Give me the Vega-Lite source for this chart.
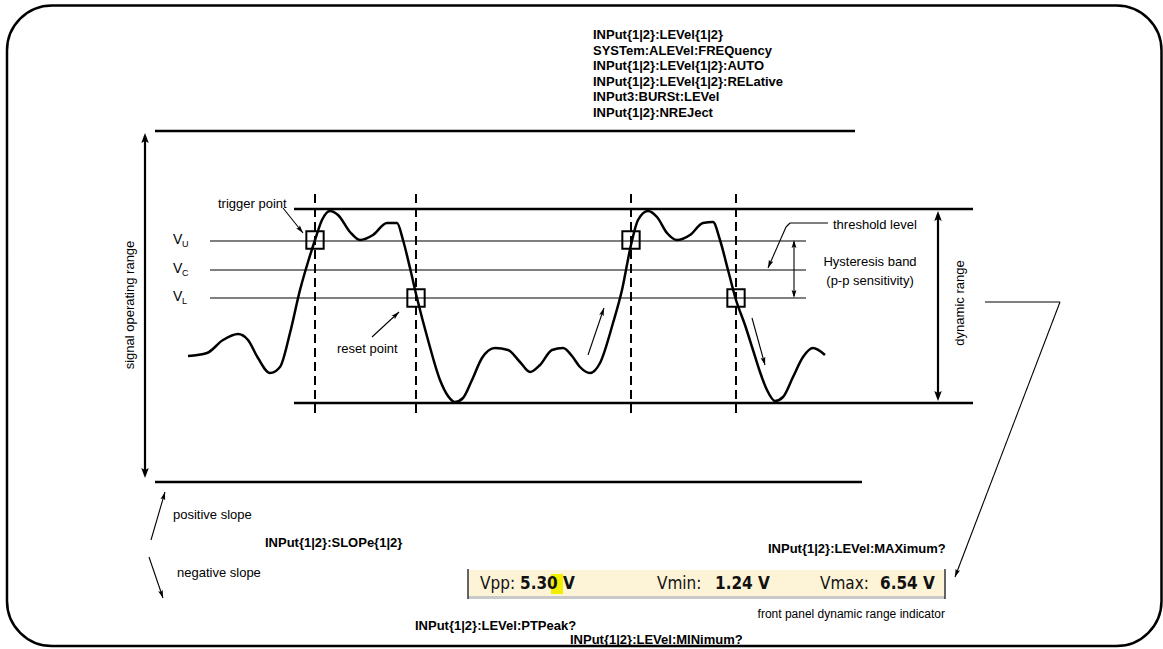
{
  "$schema": "https://vega.github.io/schema/vega-lite/v6.json",
  "width": 1163,
  "height": 649,
  "autosize": {"type": "fit", "contains": "padding"},
  "padding": 0,
  "background": "white",
  "config": {"view": {"stroke": null}, "text": {"font": "Liberation Sans, Arial, sans-serif"}},
  "datasets": {
    "frame": [{"x": 7, "x2": 1161.5, "y": 5.5, "y2": 646}],
    "thick": [
      {"x": 155, "x2": 855, "y": 131},
      {"x": 155, "x2": 862, "y": 482},
      {"x": 294, "x2": 973, "y": 209},
      {"x": 294, "x2": 973, "y": 403}
    ],
    "thin": [
      {"x": 210, "x2": 806, "y": 241},
      {"x": 210, "x2": 806, "y": 270},
      {"x": 210, "x2": 806, "y": 298}
    ],
    "dashed": [
      {"x": 315, "y": 194, "y2": 414},
      {"x": 416, "y": 194, "y2": 414},
      {"x": 631, "y": 194, "y2": 414},
      {"x": 736, "y": 194, "y2": 414}
    ],
    "squares": [
      {"x": 315, "y": 240},
      {"x": 416, "y": 298},
      {"x": 631, "y": 240},
      {"x": 736, "y": 298}
    ],
    "wave": [
      {"x": 188, "y": 356}, {"x": 207, "y": 353}, {"x": 223, "y": 340}, {"x": 238, "y": 334},
      {"x": 248, "y": 340}, {"x": 258, "y": 358}, {"x": 270, "y": 373}, {"x": 280, "y": 367},
      {"x": 290, "y": 333}, {"x": 300, "y": 290}, {"x": 308, "y": 262}, {"x": 315, "y": 240},
      {"x": 322, "y": 220}, {"x": 330, "y": 211}, {"x": 338, "y": 215}, {"x": 350, "y": 232},
      {"x": 360, "y": 240}, {"x": 373, "y": 235}, {"x": 387, "y": 223}, {"x": 397, "y": 223},
      {"x": 403, "y": 240}, {"x": 410, "y": 268}, {"x": 417, "y": 298}, {"x": 428, "y": 340},
      {"x": 440, "y": 380}, {"x": 448, "y": 396}, {"x": 455, "y": 402}, {"x": 463, "y": 398},
      {"x": 472, "y": 380}, {"x": 482, "y": 358}, {"x": 495, "y": 348}, {"x": 508, "y": 350},
      {"x": 520, "y": 362}, {"x": 530, "y": 372}, {"x": 540, "y": 365}, {"x": 552, "y": 350},
      {"x": 563, "y": 348}, {"x": 572, "y": 356}, {"x": 580, "y": 367}, {"x": 590, "y": 373},
      {"x": 600, "y": 363}, {"x": 613, "y": 323}, {"x": 622, "y": 290}, {"x": 631, "y": 245},
      {"x": 638, "y": 220}, {"x": 648, "y": 211}, {"x": 657, "y": 217}, {"x": 667, "y": 233},
      {"x": 677, "y": 240}, {"x": 690, "y": 235}, {"x": 703, "y": 223}, {"x": 713, "y": 222},
      {"x": 720, "y": 240}, {"x": 728, "y": 270}, {"x": 736, "y": 300}, {"x": 745, "y": 325},
      {"x": 753, "y": 350}, {"x": 760, "y": 372}, {"x": 767, "y": 390}, {"x": 775, "y": 401},
      {"x": 783, "y": 397}, {"x": 793, "y": 377}, {"x": 803, "y": 357}, {"x": 813, "y": 348},
      {"x": 825, "y": 355}
    ],
    "bigArrows": [
      {"x": 145, "y": 136, "x2": 145, "y2": 475},
      {"x": 938, "y": 214, "x2": 938, "y2": 398}
    ],
    "bigHeads": [
      {"x": 145, "y": 133, "heading": 0},
      {"x": 145, "y": 478, "heading": 180},
      {"x": 938, "y": 211, "heading": 0},
      {"x": 938, "y": 401, "heading": 180}
    ],
    "smallArrows": [
      {"x": 794, "y": 242, "x2": 794, "y2": 296},
      {"x": 283, "y": 208, "x2": 303, "y2": 233},
      {"x": 372, "y": 337, "x2": 399, "y2": 312},
      {"x": 828, "y": 223, "x2": 790, "y2": 223},
      {"x": 790, "y": 223, "x2": 786, "y2": 227},
      {"x": 786, "y": 227, "x2": 768, "y2": 268},
      {"x": 588, "y": 355, "x2": 604, "y2": 308},
      {"x": 752, "y": 318, "x2": 765, "y2": 365},
      {"x": 151, "y": 540, "x2": 165, "y2": 492},
      {"x": 149, "y": 557, "x2": 163, "y2": 598},
      {"x": 985, "y": 302, "x2": 1060, "y2": 302},
      {"x": 1060, "y": 302, "x2": 955, "y2": 577}
    ],
    "smallHeads": [
      {"x": 794, "y": 240, "heading": 0},
      {"x": 794, "y": 298, "heading": 180},
      {"x": 303, "y": 233, "heading": 141},
      {"x": 399, "y": 312, "heading": 47},
      {"x": 768, "y": 268, "heading": 203},
      {"x": 604, "y": 308, "heading": 19},
      {"x": 765, "y": 365, "heading": 165},
      {"x": 165, "y": 492, "heading": 16},
      {"x": 163, "y": 598, "heading": 161},
      {"x": 955, "y": 577, "heading": 201}
    ],
    "panel": [{"x": 468, "x2": 945, "y": 570, "y2": 597}],
    "panelShadow": [{"x": 468, "x2": 945, "y": 597.5}],
    "panelEdges": [{"x": 468, "y": 569, "y2": 599}, {"x": 945, "y": 569, "y2": 599}],
    "highlight": [{"x": 551, "x2": 563, "y": 574, "y2": 594}],
    "panelLabels": [
      {"x": 480, "y": 584, "t": "Vpp:"},
      {"x": 657, "y": 584, "t": "Vmin:"},
      {"x": 820, "y": 584, "t": "Vmax:"}
    ],
    "panelValues": [
      {"x": 520, "y": 584, "t": "5.30 V"},
      {"x": 715, "y": 584, "t": "1.24 V"},
      {"x": 880, "y": 584, "t": "6.54 V"}
    ],
    "boldText": [
      {"x": 593, "y": 35, "t": "INPut{1|2}:LEVel{1|2}"},
      {"x": 593, "y": 50.5, "t": "SYSTem:ALEVel:FREQuency"},
      {"x": 593, "y": 66, "t": "INPut{1|2}:LEVel{1|2}:AUTO"},
      {"x": 593, "y": 81.5, "t": "INPut{1|2}:LEVel{1|2}:RELative"},
      {"x": 593, "y": 97, "t": "INPut3:BURSt:LEVel"},
      {"x": 593, "y": 112.5, "t": "INPut{1|2}:NREJect"},
      {"x": 265, "y": 543, "t": "INPut{1|2}:SLOPe{1|2}"},
      {"x": 768, "y": 549, "t": "INPut{1|2}:LEVel:MAXimum?"},
      {"x": 415, "y": 626, "t": "INPut{1|2}:LEVel:PTPeak?"},
      {"x": 570, "y": 640, "t": "INPut{1|2}:LEVel:MINimum?"}
    ],
    "plainText": [
      {"x": 218, "y": 204, "t": "trigger point"},
      {"x": 337, "y": 349, "t": "reset point"},
      {"x": 833, "y": 225, "t": "threshold level"},
      {"x": 173, "y": 515, "t": "positive slope"},
      {"x": 177, "y": 573, "t": "negative slope"}
    ],
    "rightText": [
      {"x": 945, "y": 614, "t": "front panel dynamic range indicator"}
    ],
    "centerText": [
      {"x": 870, "y": 262, "t": "Hysteresis band"},
      {"x": 870, "y": 281, "t": "(p-p sensitivity)"}
    ],
    "vLetters": [
      {"x": 173, "y": 240, "t": "V"},
      {"x": 173, "y": 269, "t": "V"},
      {"x": 173, "y": 297, "t": "V"}
    ],
    "vSubs": [
      {"x": 182, "y": 244, "t": "U"},
      {"x": 182, "y": 273, "t": "C"},
      {"x": 182, "y": 301, "t": "L"}
    ],
    "rotText": [
      {"x": 130, "y": 305, "t": "signal operating range"},
      {"x": 960, "y": 303, "t": "dynamic range"}
    ]
  },
  "encoding": {
    "x": {"field": "x", "type": "quantitative", "axis": null, "scale": {"domain": [0, 1163], "nice": false, "zero": false}},
    "y": {"field": "y", "type": "quantitative", "axis": null, "scale": {"domain": [0, 649], "nice": false, "zero": false, "reverse": true}}
  },
  "layer": [
    {
      "data": {"name": "frame"},
      "mark": {"type": "rect", "fill": null, "fillOpacity": 0, "stroke": "black", "strokeWidth": 2.5, "cornerRadius": 45},
      "encoding": {"x2": {"field": "x2"}, "y2": {"field": "y2"}}
    },
    {
      "data": {"name": "panel"},
      "mark": {"type": "rect", "fill": "#FDF3D6", "stroke": null},
      "encoding": {"x2": {"field": "x2"}, "y2": {"field": "y2"}}
    },
    {
      "data": {"name": "highlight"},
      "mark": {"type": "rect", "fill": "#F2EE00", "stroke": null},
      "encoding": {"x2": {"field": "x2"}, "y2": {"field": "y2"}}
    },
    {
      "data": {"name": "panelShadow"},
      "mark": {"type": "rule", "stroke": "#C9C9C9", "strokeWidth": 3},
      "encoding": {"x2": {"field": "x2"}}
    },
    {
      "data": {"name": "panelEdges"},
      "mark": {"type": "rule", "stroke": "#333333", "strokeWidth": 1.5},
      "encoding": {"y2": {"field": "y2"}}
    },
    {
      "data": {"name": "thick"},
      "mark": {"type": "rule", "stroke": "black", "strokeWidth": 2.5},
      "encoding": {"x2": {"field": "x2"}}
    },
    {
      "data": {"name": "thin"},
      "mark": {"type": "rule", "stroke": "black", "strokeWidth": 1.2},
      "encoding": {"x2": {"field": "x2"}}
    },
    {
      "data": {"name": "dashed"},
      "mark": {"type": "rule", "stroke": "black", "strokeWidth": 2, "strokeDash": [9, 5]},
      "encoding": {"y2": {"field": "y2"}}
    },
    {
      "data": {"name": "wave"},
      "mark": {"type": "line", "stroke": "black", "strokeWidth": 2.5, "interpolate": "monotone"},
      "encoding": {}
    },
    {
      "data": {"name": "squares"},
      "mark": {"type": "point", "shape": "square", "size": 300, "filled": false, "stroke": "black", "strokeWidth": 2, "opacity": 1},
      "encoding": {}
    },
    {
      "data": {"name": "bigArrows"},
      "mark": {"type": "rule", "stroke": "black", "strokeWidth": 2.2},
      "encoding": {"x2": {"field": "x2"}, "y2": {"field": "y2"}}
    },
    {
      "data": {"name": "bigHeads"},
      "mark": {"type": "point", "shape": "M0,0L-0.75,2L0,1.6L0.75,2Z", "size": 100, "filled": true, "fill": "black", "stroke": null, "opacity": 1},
      "encoding": {"angle": {"field": "heading", "type": "quantitative", "scale": null}}
    },
    {
      "data": {"name": "smallArrows"},
      "mark": {"type": "rule", "stroke": "black", "strokeWidth": 1.1},
      "encoding": {"x2": {"field": "x2"}, "y2": {"field": "y2"}}
    },
    {
      "data": {"name": "smallHeads"},
      "mark": {"type": "point", "shape": "M0,0L-0.6,2L0,1.6L0.6,2Z", "size": 64, "filled": true, "fill": "black", "stroke": null, "opacity": 1},
      "encoding": {"angle": {"field": "heading", "type": "quantitative", "scale": null}}
    },
    {
      "data": {"name": "boldText"},
      "mark": {"type": "text", "align": "left", "baseline": "middle", "fontSize": 13, "fontWeight": "bold", "fill": "black"},
      "encoding": {"text": {"field": "t"}}
    },
    {
      "data": {"name": "plainText"},
      "mark": {"type": "text", "align": "left", "baseline": "middle", "fontSize": 13, "fill": "black"},
      "encoding": {"text": {"field": "t"}}
    },
    {
      "data": {"name": "rightText"},
      "mark": {"type": "text", "align": "right", "baseline": "middle", "fontSize": 12, "fill": "black"},
      "encoding": {"text": {"field": "t"}}
    },
    {
      "data": {"name": "centerText"},
      "mark": {"type": "text", "align": "center", "baseline": "middle", "fontSize": 13, "fill": "black"},
      "encoding": {"text": {"field": "t"}}
    },
    {
      "data": {"name": "vLetters"},
      "mark": {"type": "text", "align": "left", "baseline": "middle", "fontSize": 14, "fill": "black"},
      "encoding": {"text": {"field": "t"}}
    },
    {
      "data": {"name": "vSubs"},
      "mark": {"type": "text", "align": "left", "baseline": "middle", "fontSize": 9, "fill": "black"},
      "encoding": {"text": {"field": "t"}}
    },
    {
      "data": {"name": "rotText"},
      "mark": {"type": "text", "align": "center", "baseline": "middle", "fontSize": 13, "angle": 270, "fill": "black"},
      "encoding": {"text": {"field": "t"}}
    },
    {
      "data": {"name": "panelLabels"},
      "mark": {"type": "text", "align": "left", "baseline": "middle", "fontSize": 17, "font": "DejaVu Sans Condensed, DejaVu Sans, sans-serif", "fill": "#111111"},
      "encoding": {"text": {"field": "t"}}
    },
    {
      "data": {"name": "panelValues"},
      "mark": {"type": "text", "align": "left", "baseline": "middle", "fontSize": 17, "fontWeight": "bold", "font": "DejaVu Sans Condensed, DejaVu Sans, sans-serif", "fill": "#111111"},
      "encoding": {"text": {"field": "t"}}
    }
  ]
}
